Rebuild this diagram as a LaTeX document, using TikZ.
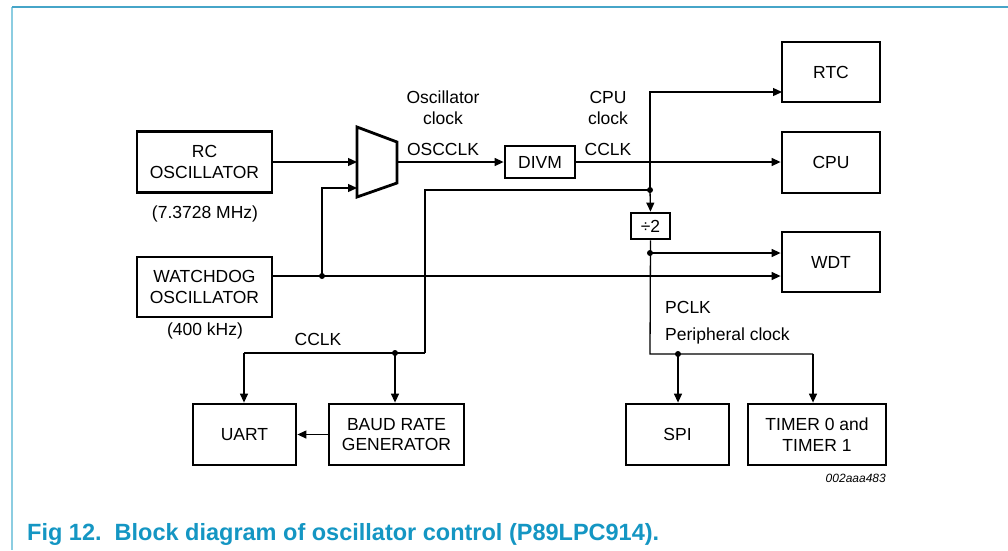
\documentclass[tikz,border=0pt]{standalone}
\usepackage{fontspec}
\setmainfont{Liberation Sans}
\usetikzlibrary{arrows.meta,calc}
\definecolor{capcol}{RGB}{20,150,195}
\definecolor{topline}{RGB}{70,165,200}
\definecolor{leftline}{RGB}{140,205,225}
\begin{document}
\begin{tikzpicture}[x=1pt,y=-1pt,
  blk/.style={draw,line width=2.8pt,inner sep=0pt,align=center,font=\fontsize{17.5}{20.5}\selectfont},
  lbl/.style={inner sep=0pt,align=center,font=\fontsize{17.5}{20.5}\selectfont},
  wire/.style={line width=1.3pt},
  arr/.style={wire,-{Triangle[length=9pt,width=8pt]}},
  dot/.style={circle,fill,inner sep=0pt,minimum size=6pt}]
\useasboundingbox (0,0) rectangle (1008,550);
\fill[white] (0,0) rectangle (1008,550);
% frame
\draw[leftline,line width=1.6pt] (12,7) -- (12,550);
\draw[topline,line width=2pt] (12,7) -- (1008,7);
% blocks
\node[blk,minimum width=135pt,minimum height=61pt] (rc) at (204.5,162) {RC\\OSCILLATOR};
\node[blk,minimum width=135pt,minimum height=60pt] (wdg) at (204.5,287) {WATCHDOG\\OSCILLATOR};
\node[blk,minimum width=70pt,minimum height=32pt] (divm) at (540,162) {DIVM};
\node[blk,minimum width=98pt,minimum height=60pt] (rtc) at (831,72) {RTC};
\node[blk,minimum width=98pt,minimum height=61pt] (cpu) at (831,162.5) {CPU};
\node[blk,minimum width=98pt,minimum height=60pt] (wdt) at (831,262) {WDT};
\node[blk,minimum width=39pt,minimum height=26pt] (div2) at (650.5,226) {÷2};
\node[blk,minimum width=103pt,minimum height=61pt] (spi) at (677.5,434.5) {SPI};
\node[blk,minimum width=138pt,minimum height=61pt] (tmr) at (817,434.5) {TIMER 0 and\\TIMER 1};
\node[blk,minimum width=103pt,minimum height=61pt] (uart) at (244.5,434.5) {UART};
\node[blk,minimum width=135pt,minimum height=61pt] (baud) at (396.5,434.5) {BAUD RATE\\GENERATOR};
% mux
\draw[line width=2.8pt,line join=miter] (357,127) -- (397,142) -- (397,183) -- (357,197) -- cycle;
\coordinate (muxa) at (357,162);
\coordinate (muxb) at (357,188);
\coordinate (muxo) at (397,162);
% helper coordinates
\coordinate (wy) at (0,276);
\coordinate (jw) at (322,276);
\coordinate (rtcin) at (782,92);
\coordinate (cc) at (650,190);
\coordinate (ccl) at (425,190);
\coordinate (bus) at (425,353);
\coordinate (jb) at (395,353);
\coordinate (ju) at (244,353);
\coordinate (jd) at (650,253);
\coordinate (pb) at (650,354);
\coordinate (js) at (678,354);
\coordinate (jt) at (813,354);
% labels
\node[lbl] (f1) at (205,214) {(7.3728 MHz)};
\node[lbl] (f2) at (205,331) {(400 kHz)};
\node[lbl] (osc1) at (443,97) {Oscillator};
\node[lbl] (osc2) at (443,118) {clock};
\node[lbl] (osc3) at (443,149) {OSCCLK};
\node[lbl] (cpu1) at (608,97) {CPU};
\node[lbl] (cpu2) at (608,118) {clock};
\node[lbl] (cpu3) at (608,149) {CCLK};
\node[lbl] (cclk) at (318,339) {CCLK};
\node[lbl,anchor=west] (pclk) at (665,307) {PCLK};
\node[lbl,anchor=west] (pclk2) at (665,336) {Peripheral clock};
\node[inner sep=0pt,anchor=east,font=\fontsize{12}{14}\selectfont\itshape] (code) at (886,478) {002aaa483};
\node[inner sep=0pt,anchor=base west,text=capcol,font=\fontsize{23.5}{28}\selectfont\bfseries] (cap) at (27,540) {Fig 12.\ \ Block diagram of oscillator control (P89LPC914).};
% connectors
\draw[arr] (rc.east |- muxa) -- (muxa);
\draw[wire] (wdg.east |- wy) -- (jw);
\draw[arr] (jw) -- (jw |- muxb) -- (muxb);
\draw[arr] (jw) -- (wdt.west |- wy);
\draw[arr] (muxo) -- (divm.west);
\draw[arr] (divm.east) -- (cpu.west |- divm.east);
\draw[wire] (bus) -- (ccl) -- (cc);
\draw[arr] (cc) -- (cc |- rtcin) -- (rtcin);
\draw[arr] (cc) -- (div2.north);
\draw[wire] (div2.south) -- (pb) -- (jt);
\draw[arr] (jd) -- (wdt.west |- jd);
\draw[arr] (js) -- (js |- spi.north);
\draw[arr] (jt) -- (jt |- tmr.north);
\draw[wire] (bus) -- (ju);
\draw[arr] (ju) -- (ju |- uart.north);
\draw[arr] (jb) -- (jb |- baud.north);
\draw[arr] (baud.west) -- (uart.east);
% junction dots
\node[dot] at (jw) {};
\node[dot] at (cc) {};
\node[dot] at (jd) {};
\node[dot] at (js) {};
\node[dot] at (jb) {};
\end{tikzpicture}
\end{document}
